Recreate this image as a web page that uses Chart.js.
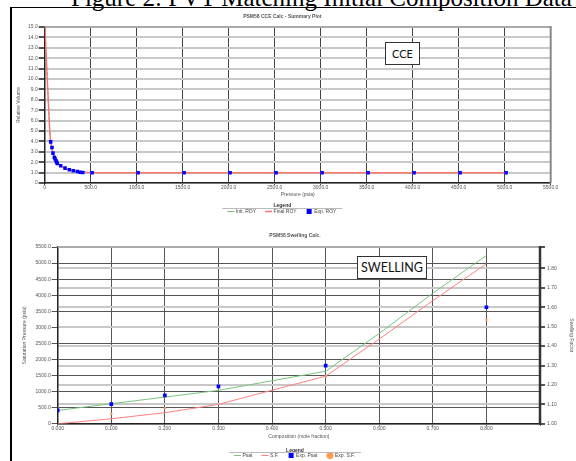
<!DOCTYPE html>
<html>
<head>
<meta charset="utf-8">
<script src="https://cdn.jsdelivr.net/npm/chart.js@4.4.1/dist/chart.umd.min.js"></script>
<style>
  html, body { margin: 0; padding: 0; background: #fff; overflow: hidden; }
  body { width: 576px; height: 461px; position: relative; }
  .caption { position: absolute; left: 71px; top: -15px; font: 25px/25px "Liberation Serif", "Times New Roman", serif; white-space: nowrap; color: #000; }
  .frameL { position: absolute; left: 10px; top: 7px; width: 2px; height: 454px; background: #000; }
  .frameT { position: absolute; left: 10px; top: 7px; width: 566px; height: 1px; background: #000; }
  .note { position: absolute; border: 1.5px solid #333; background: #fff; box-sizing: border-box;
          font-family: Lato, "Liberation Sans", sans-serif; color: #111;
          display: flex; align-items: center; justify-content: center; z-index: 2; }
  #cceWrap { position: absolute; left: 0; top: 0; }
  #swWrap { position: absolute; left: 0; top: 226px; }
</style>
</head>
<body>
<div class="caption">Figure 2: PVT Matching Initial Composition Data</div>
<div class="frameT"></div>
<div class="frameL"></div>

<div id="cceWrap"><canvas id="cce" width="576" height="224"></canvas></div>
<div id="swWrap"><canvas id="swell" width="576" height="242"></canvas></div>

<div class="note" style="left:385px;top:42px;width:35px;height:23px;font-size:11px;">CCE</div>
<div class="note" style="left:357px;top:256px;width:70px;height:23px;font-size:12.5px;">SWELLING</div>

<script>
// ---- CCE (relative volume vs pressure) ----
const cceCalcPressure = [3, 15, 30, 45, 55, 65, 80, 100, 130, 175, 250, 350, 450, 520, 1015, 1515, 2015, 2515, 3015, 3515, 4015, 4515, 5015];
const cceInitRoy  = [15.0, 12.6, 9.6, 6.8, 5.0, 4.0, 3.2, 2.55, 2.0, 1.62, 1.3, 1.12, 1.04, 1.0, 1.0, 1.0, 1.0, 1.0, 1.0, 1.0, 1.0, 1.0, 1.0];
const cceFinalRoy = [15.0, 12.6, 9.6, 6.8, 5.0, 4.0, 3.2, 2.55, 2.0, 1.62, 1.3, 1.12, 1.04, 1.0, 1.0, 1.0, 1.0, 1.0, 1.0, 1.0, 1.0, 1.0, 1.0];
const cceExpPressure = [65, 79, 90, 105, 112, 123, 130, 137, 174, 221, 268, 311, 355, 384, 413, 515, 1015, 1515, 2015, 2515, 3015, 3515, 4015, 4515, 5015];
const cceExpRoy = [3.96, 3.42, 2.88, 2.49, 2.33, 2.14, 2.01, 1.88, 1.66, 1.44, 1.28, 1.18, 1.12, 1.05, 1.02, 1.0, 1.0, 1.0, 1.0, 1.0, 1.0, 1.0, 1.0, 1.0, 1.0];

// ---- Swelling (saturation pressure / swelling factor vs composition) ----
const swComp = [0, 0.1, 0.2, 0.3, 0.4, 0.5, 0.6, 0.7, 0.8];
const swPsat = [416, 625, 831, 1040, 1340, 1634, 2812, 4062, 5237];
const swSF = [1.0, 1.026, 1.057, 1.100, 1.173, 1.245, 1.436, 1.634, 1.824];
const expPsatComp = [0, 0.1, 0.2, 0.3, 0.5, 0.8];
const expPsat = [416, 612, 884, 1165, 1812, 3625];
const expSFComp = [0.1, 0.2, 0.5, 0.8];
const expSF = [1.052, 1.08, 1.245, 1.535];

const FONT = '"Liberation Sans", Arial, sans-serif';
const small = { size: 5, family: FONT };
const TXT = '#555';

function zip(xs, ys) {
    return xs.map((x, i) => ({ x: x, y: ys[i] }));
}

// frame round the plot + line under the legend title
const plotFrame = {
    id: 'plotFrame',
    beforeDatasetsDraw(chart, args, opts) {
        const { ctx, chartArea: a } = chart;
        ctx.save();
        ctx.lineWidth = 2;
        ctx.strokeStyle = opts.topColor;
        ctx.beginPath(); ctx.moveTo(a.left, a.top); ctx.lineTo(a.right, a.top); ctx.stroke();
        ctx.strokeStyle = opts.rightColor;
        ctx.lineWidth = opts.rightWidth;
        ctx.beginPath(); ctx.moveTo(a.right, a.top - 1); ctx.lineTo(a.right, a.bottom); ctx.stroke();
        ctx.restore();
    },
    afterDraw(chart) {
        const lg = chart.legend;
        if (!lg || !lg.legendHitBoxes || !lg.legendHitBoxes.length) return;
        const boxes = lg.legendHitBoxes;
        const l = Math.min(...boxes.map(b => b.left)) - 6;
        const r = Math.max(...boxes.map(b => b.left + b.width)) + 6;
        const y = boxes[0].top - 0.5;
        const ctx = chart.ctx;
        ctx.save();
        ctx.strokeStyle = '#bbb';
        ctx.lineWidth = 1;
        ctx.beginPath(); ctx.moveTo(l, y); ctx.lineTo(r, y); ctx.stroke();
        ctx.restore();
    }
};

const legendOpts = (titleTop, titleBottom) => ({
    position: 'bottom',
    title: { display: true, text: 'Legend', font: { size: 5, family: FONT, weight: 'bold' }, color: '#333', padding: { top: titleTop, bottom: titleBottom } },
    labels: { usePointStyle: true, font: small, color: '#444', padding: 10,
        sort: (a, b) => a.datasetIndex - b.datasetIndex }
});

new Chart(document.getElementById('cce'), {
    type: 'scatter',
    data: {
        datasets: [
            { label: 'Init. ROY', order: 2, data: zip(cceCalcPressure, cceInitRoy), showLine: true, borderColor: '#6fbf6f', borderWidth: 1, borderDash: [3, 2], pointRadius: 0, pointStyle: 'line' },
            { label: 'Final ROY', order: 1, data: zip(cceCalcPressure, cceFinalRoy), showLine: true, borderColor: '#ff7070', borderWidth: 1.4, pointRadius: 0, pointStyle: 'line' },
            { label: 'Exp. ROY', order: 0, data: zip(cceExpPressure, cceExpRoy), backgroundColor: '#0000ff', borderColor: '#0000ff', borderWidth: 0, pointStyle: 'rect', pointRadius: 2.5 }
        ]
    },
    options: {
        responsive: false,
        animation: false,
        layout: { padding: { left: 14, right: 25.3, top: 0, bottom: 0 } },
        plugins: {
            title: { display: true, text: 'PSM58 CCE Calc - Summary Plot', font: small, color: TXT, padding: { top: 14, bottom: 7 } },
            legend: legendOpts(4.5, -10),
            tooltip: { enabled: false },
            plotFrame: { topColor: '#aaa', rightColor: '#888', rightWidth: 2 }
        },
        scales: {
            x: {
                type: 'linear', min: 0, max: 5500,
                ticks: { stepSize: 500, font: small, color: TXT, padding: 0, maxRotation: 0,
                    callback: v => v === 0 ? '0' : v.toFixed(1) },
                grid: { color: '#444', tickLength: 2, tickColor: '#444' },
                border: { color: '#222', width: 1.5 },
                title: { display: true, text: 'Pressure (psia)', font: small, color: TXT, padding: { top: 0, bottom: 1 } },
                afterFit: s => { s.height = 15.4; }
            },
            y: {
                min: 0, max: 15,
                ticks: { stepSize: 1, font: small, color: TXT, padding: 1,
                    callback: v => v === 0 ? '0' : v.toFixed(1) },
                grid: { color: '#c8c8c8', lineWidth: 2, tickLength: 6, tickColor: '#555' },
                border: { color: '#222', width: 1.5 },
                title: { display: true, text: 'Relative Volume', font: small, color: TXT, padding: { top: 2, bottom: 0 } },
                afterFit: s => { s.width = 30.7; }
            }
        }
    },
    plugins: [plotFrame]
});

new Chart(document.getElementById('swell'), {
    type: 'scatter',
    data: {
        datasets: [
            { label: 'Psat', order: 2, data: zip(swComp, swPsat), yAxisID: 'y', showLine: true, borderColor: '#7cc47c', borderWidth: 1, pointRadius: 0, pointStyle: 'line' },
            { label: 'S.F.', order: 2, data: zip(swComp, swSF), yAxisID: 'y2', showLine: true, borderColor: '#ff8080', borderWidth: 1, pointRadius: 0, pointStyle: 'line' },
            { label: 'Exp. Psat', order: 0, data: zip(expPsatComp, expPsat), yAxisID: 'y', backgroundColor: '#0000ff', borderColor: '#0000ff', borderWidth: 0, pointStyle: 'rect', pointRadius: 2.6 },
            { label: 'Exp. S.F.', order: 0, data: zip(expSFComp, expSF), yAxisID: 'y2', backgroundColor: '#ff9a50', borderColor: '#ff9a50', borderWidth: 0, pointStyle: 'circle', pointRadius: 1.3 }
        ]
    },
    options: {
        responsive: false,
        animation: false,
        layout: { padding: { left: 14, right: 0, top: 0, bottom: 0 } },
        plugins: {
            title: { display: true, text: 'PSM58 Swelling Calc.', font: small, color: TXT, padding: { top: 7, bottom: 8 } },
            legend: legendOpts(7.5, -11),
            tooltip: { enabled: false },
            plotFrame: { topColor: '#aaa', rightColor: '#333', rightWidth: 2.5 }
        },
        scales: {
            x: {
                type: 'linear', min: 0, max: 0.9,
                ticks: { stepSize: 0.1, font: small, color: TXT, padding: 0, maxRotation: 0,
                    callback: v => v < 0.85 ? v.toFixed(3) : '' },
                grid: { color: '#555', tickLength: 2, tickColor: '#444' },
                border: { color: '#222', width: 1.5 },
                title: { display: true, text: 'Composition (mole fraction)', font: small, color: TXT, padding: { top: 0, bottom: 1 } },
                afterFit: s => { s.height = 16.7; }
            },
            y: {
                position: 'left', min: 0, max: 5500,
                ticks: { stepSize: 500, font: small, color: TXT, padding: 1,
                    callback: v => v === 0 ? '0' : v.toFixed(1) },
                grid: { color: '#555', tickLength: 6, tickColor: '#555' },
                border: { color: '#222', width: 1.5 },
                title: { display: true, text: 'Saturation Pressure (psia)', font: small, color: TXT, padding: { top: 8, bottom: 0 } },
                afterFit: s => { s.width = 43.7; }
            },
            y2: {
                position: 'right', min: 1.0, max: 1.91,
                ticks: { stepSize: 0.1, font: small, color: TXT, padding: 2,
                    callback: v => v <= 1.85 ? v.toFixed(2) : '' },
                grid: { color: '#c8c8c8', lineWidth: 2, tickLength: 5, tickColor: '#555' },
                border: { color: '#333', width: 1.5 },
                title: { display: true, text: 'Swelling Factor', font: small, color: TXT, padding: { top: 2, bottom: 0 } },
                afterFit: s => { s.width = 36; }
            }
        }
    },
    plugins: [plotFrame]
});
</script>
</body>
</html>
